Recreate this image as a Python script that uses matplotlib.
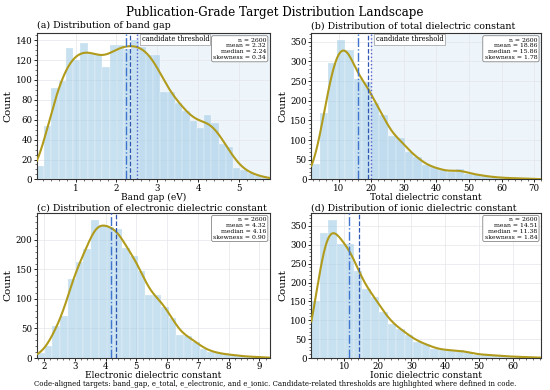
import numpy as np
import matplotlib
matplotlib.use("Agg")
import matplotlib.pyplot as plt
from matplotlib.ticker import AutoMinorLocator, MultipleLocator

plt.rcParams['font.family'] = ['DejaVu Serif']

# ---------------- data ----------------
titles = ["(a) Distribution of band gap",
          "(b) Distribution of total dielectric constant",
          "(c) Distribution of electronic dielectric constant",
          "(d) Distribution of ionic dielectric constant"]
xlabels = ["Band gap (eV)", "Total dielectric constant",
           "Electronic dielectric constant", "Ionic dielectric constant"]

band_gap_range = (0.05, 5.75)
band_gap_counts = [13, 54, 92, 99, 132, 120, 137, 126, 126, 113, 135, 135, 131, 140,
                   133, 125, 125, 88, 88, 77, 69, 59, 52, 65, 57, 36, 33, 11, 9, 6, 3, 2]

e_total_range = (1.6, 72.0)
e_total_counts = [38, 170, 295, 354, 329, 255, 248, 193, 163, 110, 104, 70, 57, 36,
                  31, 23, 19, 27, 14, 13, 8, 6, 4, 3, 3, 2, 1]

e_electronic_range = (1.76, 9.33)
e_electronic_counts = [8, 20, 55, 72, 134, 163, 184, 234, 226, 222, 219, 186, 172, 148,
                       107, 106, 87, 68, 39, 38, 27, 16, 11, 8, 6, 5, 3, 2, 2, 1]

e_ionic_range = (0.3, 68.3)
e_ionic_counts = [150, 330, 366, 301, 301, 230, 184, 162, 122, 91, 78, 60, 43, 38,
                  25, 22, 20, 20, 16, 9, 9, 7, 5, 4, 3, 2, 2]

n_values = [2600, 2600, 2600, 2600]
means = [2.32, 18.86, 4.32, 14.51]
medians = [2.24, 15.86, 4.16, 11.38]
skews = [0.34, 1.78, 0.90, 1.84]
thresholds = [2.5, 20.0, None, None]

x_steps = [1, 10, 1, 10]
y_steps = [20, 50, 50, 50]

caption = ("Code-aligned targets: band_gap, e_total, e_electronic, and e_ionic. "
           "Candidate-related thresholds are highlighted where defined in code.")

ranges = [band_gap_range, e_total_range, e_electronic_range, e_ionic_range]
counts_all = [band_gap_counts, e_total_counts, e_electronic_counts, e_ionic_counts]

# ---------------- style ----------------
bar_color = '#a3cde6'
kde_color = '#b09b1c'
mean_color = '#2f56b0'
median_color = '#3f74cf'
thr_color = '#5560d0'

fig = plt.figure(figsize=(5.5, 3.9), dpi=100)
fig.suptitle("Publication-Grade Target Distribution Landscape", fontsize=8.6,
             y=0.968, va='center')

positions = [
    [0.067, 0.540, 0.423, 0.375],
    [0.566, 0.540, 0.417, 0.375],
    [0.067, 0.082, 0.423, 0.372],
    [0.566, 0.082, 0.417, 0.372],
]

for i in range(4):
    ax = fig.add_axes(positions[i])
    lo, hi = ranges[i]
    counts = np.array(counts_all[i], dtype=float)
    nb = len(counts)
    edges = np.linspace(lo, hi, nb + 1)
    width = edges[1] - edges[0]
    centers = 0.5 * (edges[:-1] + edges[1:])

    thr = thresholds[i]
    if thr is not None:
        ax.axvspan(thr, hi, color='#dcebf7', alpha=0.5, lw=0, zorder=0)

    ax.bar(edges[:-1], counts, width=width, align='edge', color=bar_color,
           alpha=0.6, edgecolor='white', linewidth=0.3, zorder=2)

    # KDE from weighted bin centers
    total = counts.sum()
    wmean = np.sum(centers * counts) / total
    wstd = np.sqrt(np.sum(counts * (centers - wmean) ** 2) / total)
    bw = wstd * total ** (-1 / 5)
    grid = np.linspace(lo, hi, 400)
    dens = np.sum(counts[None, :] * np.exp(-0.5 * ((grid[:, None] - centers[None, :]) / bw) ** 2),
                  axis=1) / (total * bw * np.sqrt(2 * np.pi))
    ax.plot(grid, dens * total * width, color=kde_color, lw=1.5, zorder=4)

    ax.axvline(medians[i], color=median_color, ls='-.', lw=1.0, zorder=5)
    ax.axvline(means[i], color=mean_color, ls='--', lw=0.9, zorder=5)
    if thr is not None:
        ax.axvline(thr, color=thr_color, ls=':', lw=1.0, zorder=5)
        ax.text(thr + 0.02 * (hi - lo), 0.985, "candidate threshold",
                transform=ax.get_xaxis_transform(), ha='left', va='top',
                fontsize=4.8, zorder=6,
                bbox=dict(boxstyle='square,pad=0.2', fc='white', ec='#999999', lw=0.5))

    stats = (f"n = {n_values[i]}\nmean = {means[i]:.2f}\n"
             f"median = {medians[i]:.2f}\nskewness = {skews[i]:.2f}")
    ax.text(0.985, 0.97, stats, transform=ax.transAxes, ha='right', va='top',
            fontsize=4.4, linespacing=1.2, zorder=6,
            bbox=dict(boxstyle='round,pad=0.3', fc='white', ec='#888888', lw=0.6))

    ax.set_xlim(lo, hi)
    ax.set_ylim(0, max(counts.max(), (dens * total * width).max()) * 1.05)
    ax.xaxis.set_major_locator(MultipleLocator(x_steps[i]))
    ax.yaxis.set_major_locator(MultipleLocator(y_steps[i]))
    ax.grid(True, color='#e3e6ea', lw=0.5, zorder=1)
    ax.set_axisbelow(True)
    ax.xaxis.set_minor_locator(AutoMinorLocator())
    ax.yaxis.set_minor_locator(AutoMinorLocator())
    ax.tick_params(which='major', labelsize=6.2, length=2.2, width=0.6, pad=1.0)
    ax.tick_params(which='minor', length=1.2, width=0.4)
    for s in ax.spines.values():
        s.set_color('#333333')
        s.set_linewidth(0.8)
    ax.set_title(titles[i], fontsize=6.85, pad=(3.5 if i < 2 else 1.0), loc='left')
    ax.set_xlabel(xlabels[i], fontsize=6.5, labelpad=0)
    ax.set_ylabel("Count", fontsize=7.5, labelpad=2)

fig.text(0.5, 0.016, caption, ha='center', va='center', fontsize=5.0)

fig.savefig("out.png", dpi=100)
